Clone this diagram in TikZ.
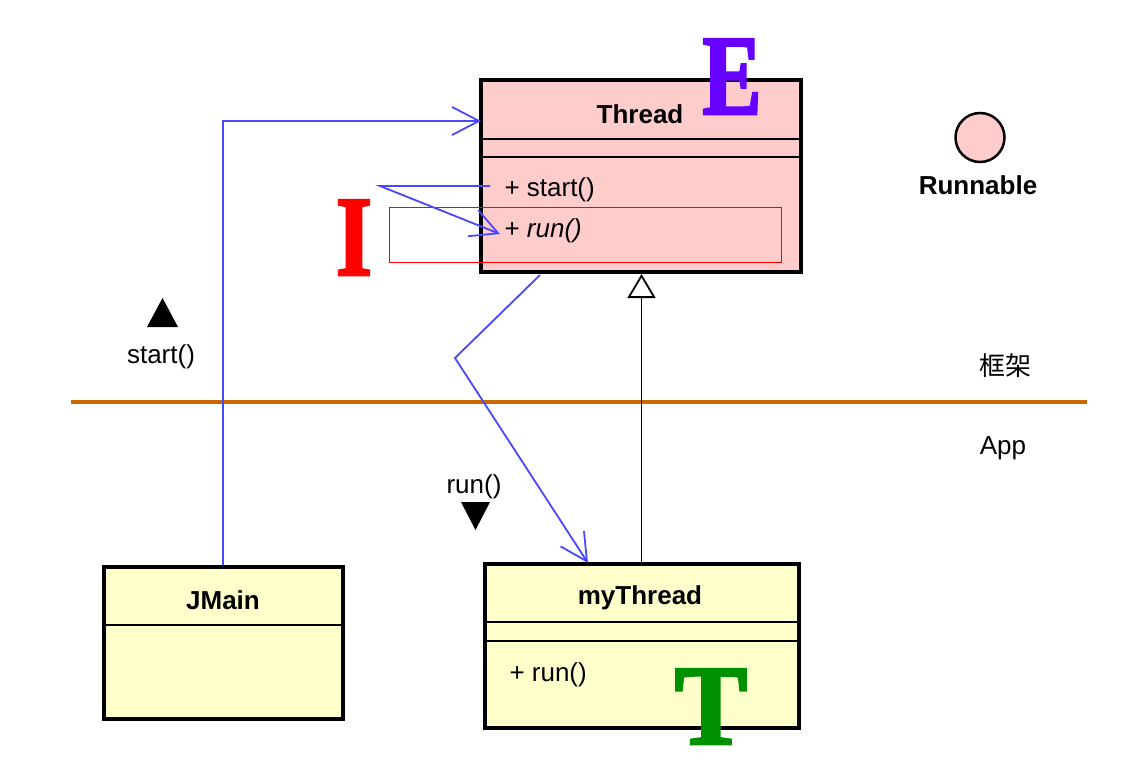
\documentclass[tikz,border=0pt]{standalone}
\usepackage{fontspec}
\setmainfont{Liberation Sans}
\newfontfamily\cjkfont{Noto Sans CJK SC}
\newfontfamily\letterfont[FakeBold=2.5]{Liberation Serif}
\usepackage{tikz}
\usetikzlibrary{arrows.meta, positioning}

\definecolor{classpink}{RGB}{255,204,204}
\definecolor{classyellow}{RGB}{255,255,204}
\definecolor{callblue}{RGB}{72,72,255}
\definecolor{layerorange}{RGB}{204,102,0}
\definecolor{letterpurple}{RGB}{102,0,255}
\definecolor{lettergreen}{RGB}{0,145,0}

\tikzset{
	classbox/.style={draw, line width=4pt, inner sep=0pt},
	sepline/.style={line width=1.6pt},
	uml/.style={font=\fontsize{26}{30}\selectfont},
	umlbold/.style={font=\fontsize{26}{30}\selectfont\bfseries},
	callarrow/.style={callblue, line width=1.8pt, -{Straight Barb[length=27pt, width=28pt, line width=1.8pt]}},
	inherit/.style={line width=1.8pt, -{Triangle[open, length=24pt, width=28pt, line width=1.8pt, fill=white]}},
	bigletter/.style={anchor=base, inner sep=0pt, font=\fontsize{114}{120}\letterfont\bfseries}
}

\begin{document}
\begin{tikzpicture}[x=1pt, y=-1pt]
		
		\useasboundingbox (0,0) rectangle (1132,770);
		
		%% layer border
		\draw[layerorange, line width=4.5pt] (71,402) -- (1087,402);
		\node[uml] (frame) at (1005,366) {\cjkfont 框架};
		\node[uml] (app) at (1003,448) {App};
		
		%% Thread
		\node[classbox, fill=classpink, minimum width=320pt, minimum height=192pt] (thread) at (640.5,176) {};
		\draw[sepline] (481,139) -- (800,139);
		\draw[sepline] (481,157) -- (800,157);
		\node[umlbold] (threadname) at (640,114) {Thread};
		\node[uml, anchor=west] (threadstart) at (501,190) {+ start()};
		\node[uml, anchor=west] (threadrun) at (501,231) {+ \textit{run()}};
		\draw[red, line width=1pt] (389,208) rectangle (781,262);
		
		%% Runnable
		\node[circle, draw, line width=2.5pt, fill=classpink, minimum size=49pt, inner sep=0pt] (runnable) at (980,137.5) {};
		\node[umlbold] (runnablename) at (978,185) {Runnable};
		
		%% JMain
		\node[classbox, fill=classyellow, minimum width=239pt, minimum height=152pt] (jmain) at (223,642.5) {};
		\draw[sepline] (104,625) -- (342,625);
		\node[umlbold] (jmainname) at (223,600) {JMain};
		
		%% myThread
		\node[classbox, fill=classyellow, minimum width=314pt, minimum height=164pt] (mythread) at (641.5,645.5) {};
		\draw[sepline] (485,622) -- (798,622);
		\draw[sepline] (485,641) -- (798,641);
		\node[umlbold] (mythreadname) at (640,598) {myThread};
		\node[uml, anchor=west] (mythreadrun) at (506,675) {+ run()};
		
		%% calls
		\coordinate (threadin) at (481,121);
		\draw[callarrow] (jmain.north) |- (threadin);
		
		\coordinate (startout) at (490,186);
		\coordinate (startbend) at (380,186);
		\coordinate (runin) at (500,234);
		\draw[callarrow] (startout) -- (startbend) -- (runin);
		
		\coordinate (runout) at (540,275);
		\coordinate (runbend) at (455,358);
		\coordinate (mythreadin) at (588,563);
		\draw[callarrow] (runout) -- (runbend) -- (mythreadin);
		
		\draw[inherit] (mythread.north) -- (mythread.north |- thread.south);
		
		%% start() and run() marks
		\fill (147,327) -- (178,327) -- (162.5,298) -- cycle;
		\node[uml] (startlabel) at (161,357) {start()};
		\node[uml] (runlabel) at (474,487) {run()};
		\fill (461,502) -- (490,502) -- (475.5,530) -- cycle;
		
		%% letters
		\node[bigletter, text=letterpurple, xscale=0.78] (lettere) at (732,114) {E};
		\node[bigletter, text=red, xscale=0.82] (letteri) at (354,275) {I};
		\node[bigletter, text=lettergreen, xscale=0.95] (lettert) at (711,744) {T};
		
		\end{tikzpicture}
\end{document}
